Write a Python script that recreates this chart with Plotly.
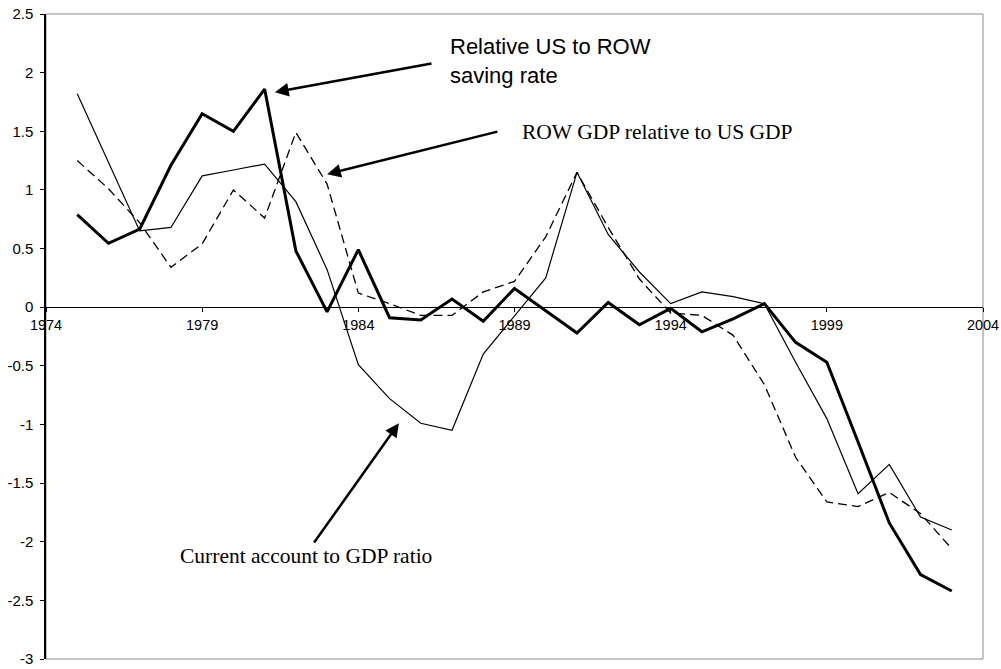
import plotly.graph_objects as go

years = list(range(1975, 2004))
saving_rate = [0.79, 0.545, 0.665, 1.21, 1.65, 1.50, 1.86, 0.48, -0.04, 0.49,
               -0.09, -0.11, 0.07, -0.12, 0.16, -0.03, -0.22, 0.04, -0.15, -0.01,
               -0.21, -0.10, 0.03, -0.30, -0.47, -1.15, -1.84, -2.28, -2.42]
current_account = [1.82, 1.24, 0.65, 0.68, 1.12, 1.17, 1.22, 0.90, 0.32, -0.49,
                   -0.78, -0.99, -1.05, -0.40, -0.07, 0.25, 1.15, 0.62, 0.30, 0.03,
                   0.13, 0.09, 0.03, -0.47, -0.95, -1.59, -1.34, -1.79, -1.90]
row_gdp = [1.25, 1.01, 0.72, 0.34, 0.54, 1.00, 0.76, 1.49, 1.05, 0.12,
           0.03, -0.07, -0.07, 0.13, 0.22, 0.60, 1.15, 0.68, 0.24, -0.05,
           -0.07, -0.24, -0.66, -1.28, -1.66, -1.70, -1.58, -1.76, -2.06]

x_ticks = [1974, 1979, 1984, 1989, 1994, 1999, 2004]
y_ticks = [2.5, 2, 1.5, 1, 0.5, 0, -0.5, -1, -1.5, -2, -2.5, -3]
y_ticktext = ["2.5", "2", "1.5", "1", "0.5", "0", "-0.5", "-1", "-1.5", "-2", "-2.5", "-3"]

SANS = "Arial, Liberation Sans, sans-serif"
SERIF = "Times New Roman, Liberation Serif, serif"

fig = go.Figure()
fig.add_trace(go.Scatter(x=years, y=current_account, mode="lines",
                         line=dict(color="black", width=1.2), name="Current account to GDP ratio"))
fig.add_trace(go.Scatter(x=years, y=row_gdp, mode="lines",
                         line=dict(color="black", width=1.3, dash="9px,5px"),
                         name="ROW GDP relative to US GDP"))
fig.add_trace(go.Scatter(x=years, y=saving_rate, mode="lines",
                         line=dict(color="black", width=3), name="Relative US to ROW saving rate"))

ymin, ymax = -3, 2.5
zero_pos = (0 - ymin) / (ymax - ymin)

fig.update_layout(
    width=1001, height=669,
    margin=dict(l=46, r=18, t=14, b=10, autoexpand=False),
    paper_bgcolor="white", plot_bgcolor="white",
    showlegend=False,
    xaxis=dict(range=[1974, 2004], tickvals=x_ticks, ticktext=[str(v) for v in x_ticks],
               anchor="free", position=zero_pos, automargin=False,
               showline=True, linecolor="black", linewidth=1,
               ticks="outside", ticklen=4, tickcolor="black",
               ticklabeloverflow="allow",
               showgrid=False, zeroline=False,
               tickfont=dict(family=SANS, size=14.5, color="black")),
    yaxis=dict(range=[ymin, ymax], tickvals=y_ticks, ticktext=y_ticktext, automargin=False,
               showline=True, linecolor="black", linewidth=1.5,
               ticks="outside", ticklen=4, tickcolor="black",
               ticklabelstandoff=4, ticklabeloverflow="allow",
               showgrid=False, zeroline=False,
               tickfont=dict(family=SANS, size=15, color="black")),
    shapes=[dict(type="rect", xref="paper", yref="paper", x0=0, x1=1, y0=0, y1=1,
                 line=dict(color="#8c8c8c", width=1), layer="below")],
)

arrows = [
    (1981.33, 1.833, 1986.39, 2.08),
    (1983.0, 1.134, 1988.5, 1.50),
    (1985.30, -0.989, 1982.55, -2.02),
]
for (tx, ty, sx, sy) in arrows:
    fig.add_annotation(x=tx, y=ty, ax=sx, ay=sy, xref="x", yref="y", axref="x", ayref="y",
                       text="", showarrow=True, arrowhead=2, arrowsize=1.1,
                       arrowwidth=2.5, arrowcolor="black")

fig.add_annotation(x=1986.86, y=2.10, xref="x", yref="y", xanchor="left", yanchor="middle",
                   text="Relative US to ROW<br>saving rate", align="left", showarrow=False,
                   font=dict(family=SANS, size=22, color="black"))
fig.add_annotation(x=1989.18, y=1.495, xref="x", yref="y", xanchor="left", yanchor="middle",
                   text="ROW GDP relative to US GDP", showarrow=False,
                   font=dict(family=SERIF, size=21.5, color="black"))
fig.add_annotation(x=1978.23, y=-2.12, xref="x", yref="y", xanchor="left", yanchor="middle",
                   text="Current account to GDP ratio", showarrow=False,
                   font=dict(family=SERIF, size=21.5, color="black"))

fig.write_html("out.html", config={"displayModeBar": False},
               post_script="document.body.style.margin='0';")
